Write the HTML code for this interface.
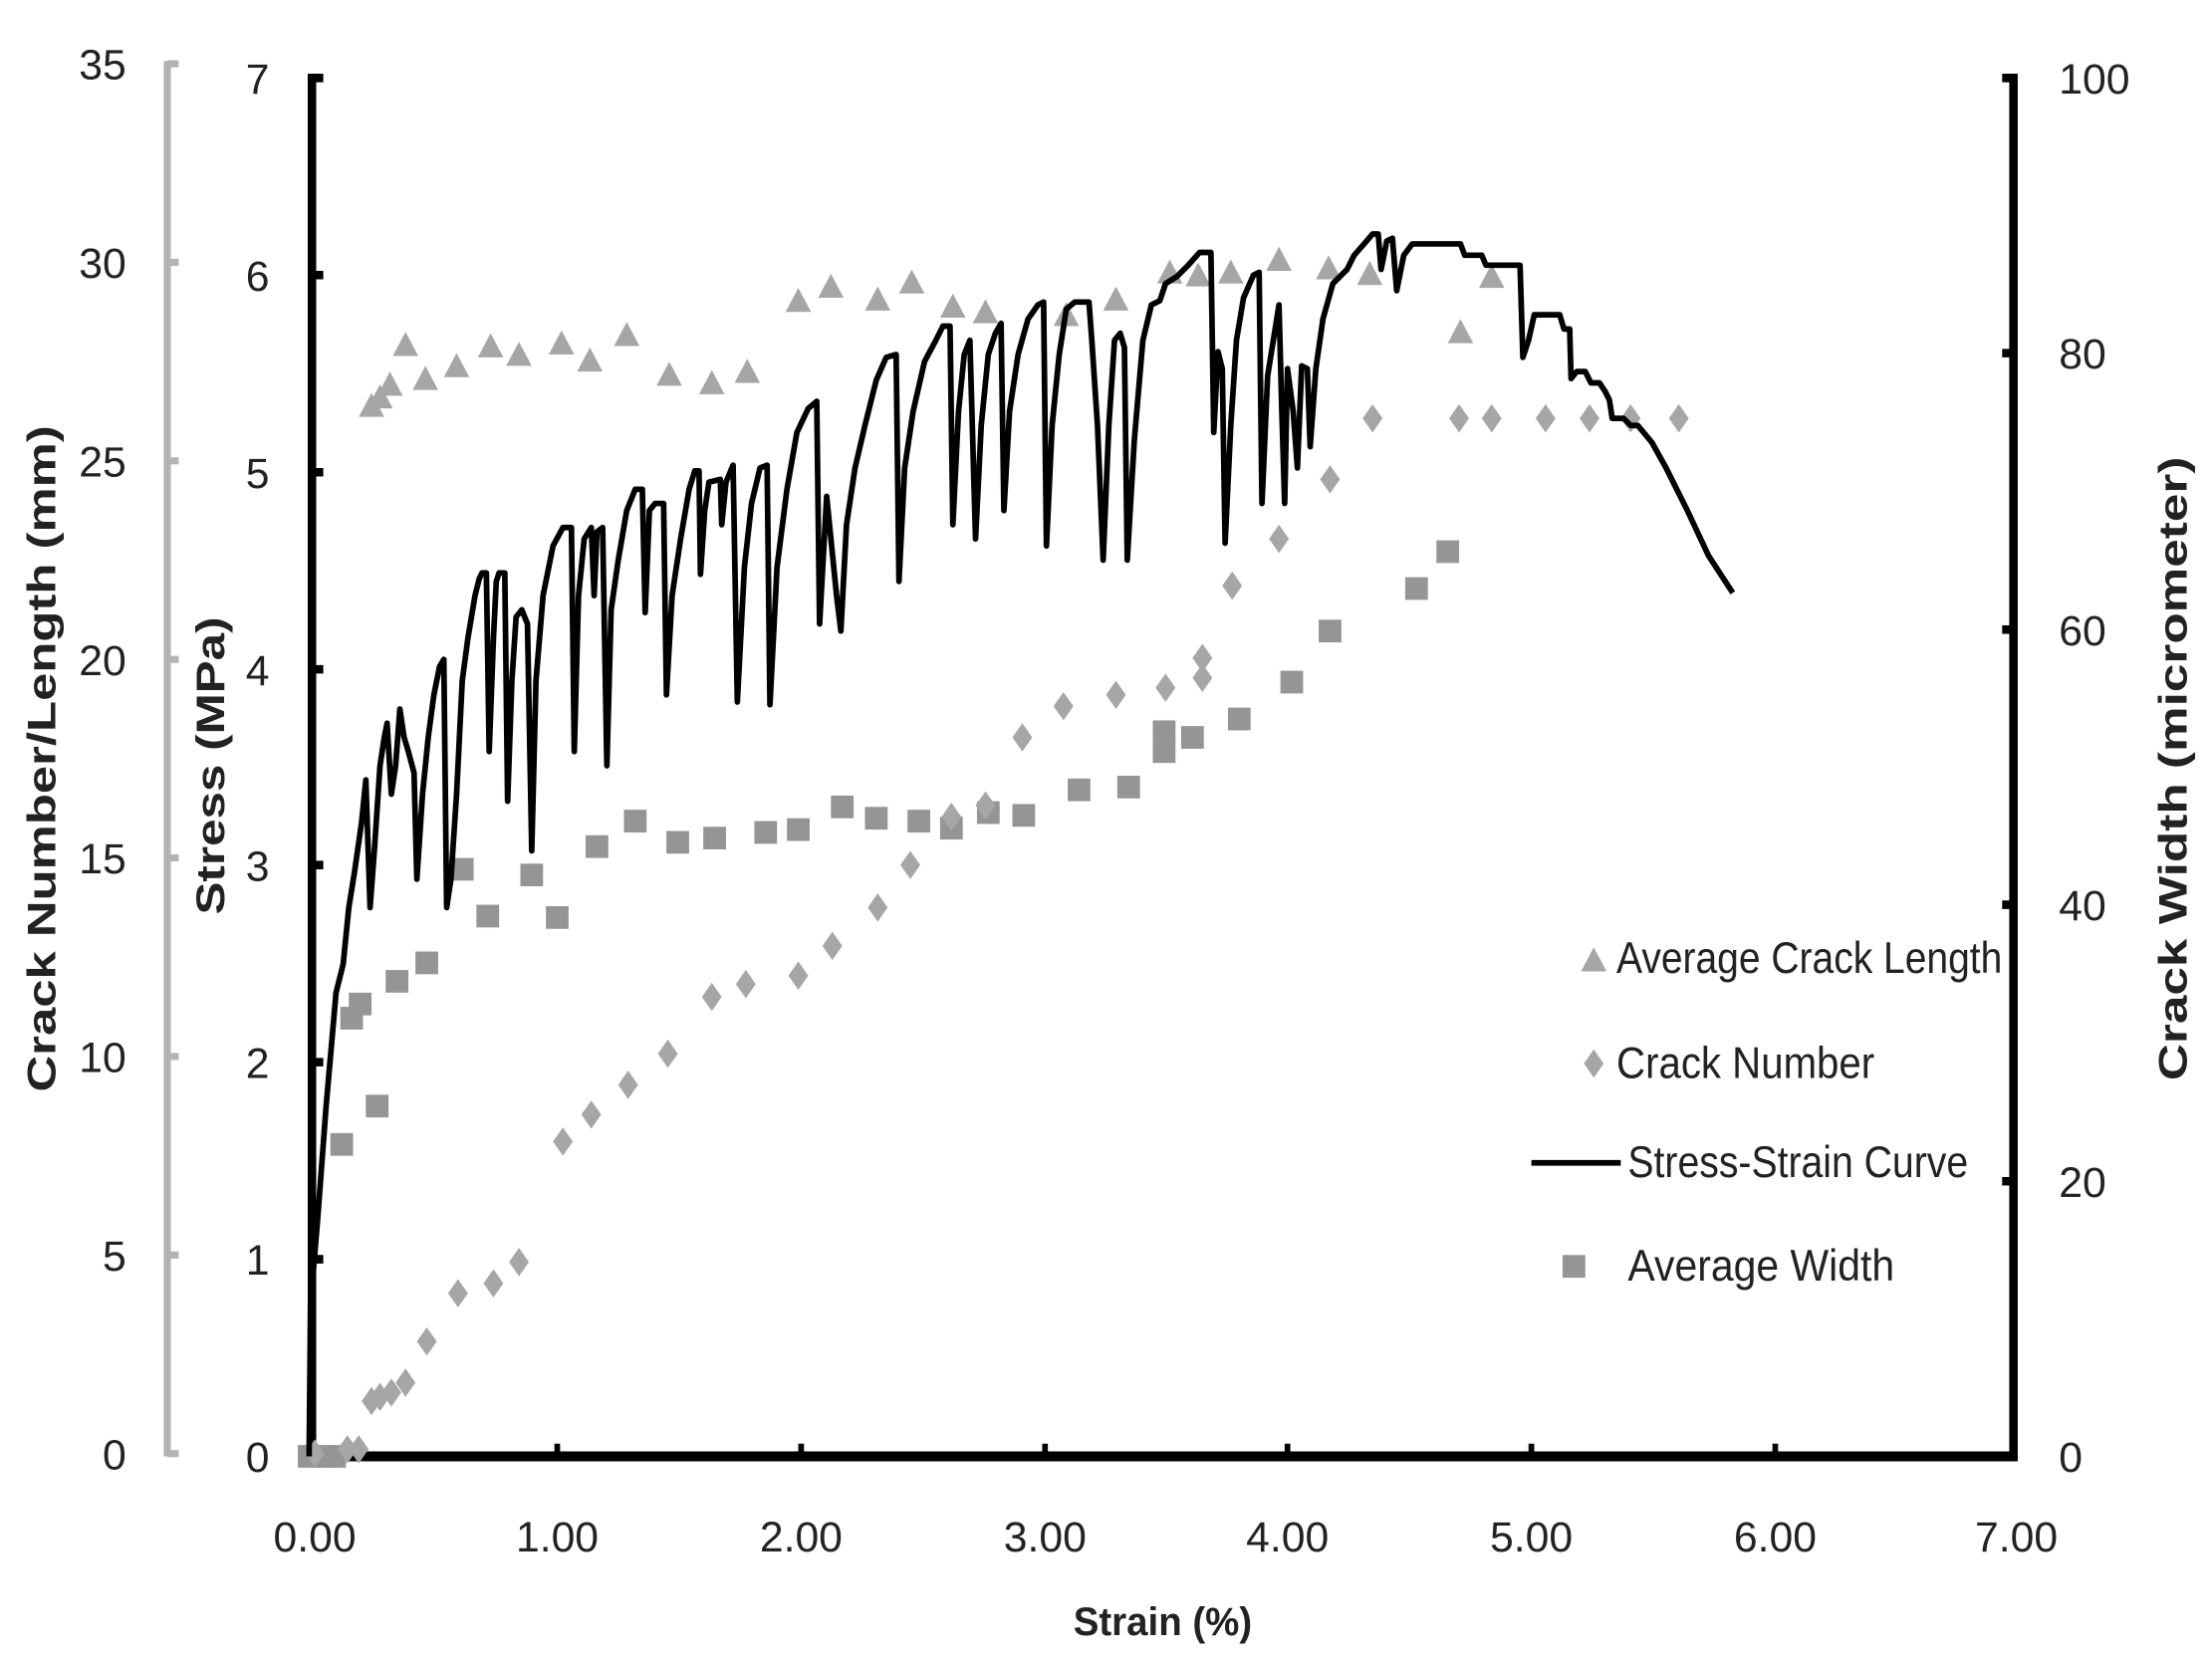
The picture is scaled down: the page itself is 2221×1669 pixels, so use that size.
<!DOCTYPE html>
<html><head><meta charset="utf-8"><style>
html,body{margin:0;padding:0;background:#fff;}
svg{display:block;}
text{font-family:"Liberation Sans Narrow","Liberation Sans",sans-serif;fill:#222;}
.b{font-family:"Liberation Sans","DejaVu Sans",sans-serif;font-weight:bold;}
</style></head><body>
<svg width="2221" height="1669" viewBox="0 0 1560 1172" preserveAspectRatio="none" xmlns="http://www.w3.org/2000/svg">
<defs>
<polygon id="tri" points="0,-10 9,7 -9,7" fill="#a6a6a6"/>
<polygon id="dia" points="0,-10 7,0 0,10 -7,0" fill="#a6a6a6"/>
<rect id="sq" x="-8" y="-8" width="16" height="16" fill="#959595"/>
</defs>
<g stroke="#b3b3b3" stroke-width="5" fill="none">
<line x1="118" y1="43" x2="118" y2="1027"/>
<path d="M118 45h8M118 185h8M118 325h8M118 465h8M118 605h8M118 745h8M118 885h8M118 1025h8"/>
</g>
<g font-size="30" text-anchor="end">
<text x="89" y="56">35</text><text x="89" y="196">30</text><text x="89" y="336">25</text><text x="89" y="476">20</text><text x="89" y="616">15</text><text x="89" y="756">10</text><text x="89" y="896">5</text><text x="89" y="1036">0</text>
</g>
<text class="b" font-size="28" transform="translate(39,535) rotate(-90)" x="-235" textLength="470" lengthAdjust="spacingAndGlyphs">Crack Number/Length (mm)</text>
<g stroke="#000" stroke-width="6" fill="none">
<line x1="220" y1="52" x2="220" y2="1030"/>
<path d="M220 55h8M220 194h8M220 333h8M220 472h8M220 610h8M220 749h8M220 888h8"/>
</g>
<g font-size="30" text-anchor="end">
<text x="190" y="66">7</text><text x="190" y="205">6</text><text x="190" y="344">5</text><text x="190" y="483">4</text><text x="190" y="621">3</text><text x="190" y="760">2</text><text x="190" y="899">1</text><text x="190" y="1038">0</text>
</g>
<text class="b" font-size="28" transform="translate(158,540) rotate(-90)" x="-105" textLength="210" lengthAdjust="spacingAndGlyphs">Stress (MPa)</text>
<g stroke="#000" fill="none">
<line x1="218" y1="1027" x2="1423" y2="1027" stroke-width="7"/>
<path stroke-width="4" d="M393 1027v-9M565 1027v-9M737 1027v-9M908 1027v-9M1080 1027v-9M1252 1027v-9"/>
</g>
<g font-size="30" text-anchor="middle">
<text x="222" y="1094">0.00</text><text x="393" y="1094">1.00</text><text x="565" y="1094">2.00</text><text x="737" y="1094">3.00</text><text x="908" y="1094">4.00</text><text x="1080" y="1094">5.00</text><text x="1252" y="1094">6.00</text><text x="1422" y="1094">7.00</text>
</g>
<text class="b" font-size="28" x="757" y="1153" textLength="126" lengthAdjust="spacingAndGlyphs">Strain (%)</text>
<g stroke="#000" stroke-width="6" fill="none">
<line x1="1420" y1="52" x2="1420" y2="1030"/>
<path d="M1420 55h-8M1420 249h-8M1420 444h-8M1420 638h-8M1420 833h-8"/>
</g>
<g font-size="30">
<text x="1452" y="66">100</text><text x="1452" y="260">80</text><text x="1452" y="455">60</text><text x="1452" y="649">40</text><text x="1452" y="844">20</text><text x="1452" y="1038">0</text>
</g>
<text class="b" font-size="28" transform="translate(1542,542) rotate(-90)" x="-220" textLength="440" lengthAdjust="spacingAndGlyphs">Crack Width (micrometer)</text>
<g>
<use href="#sq" x="218" y="1027"/><use href="#sq" x="228" y="1027"/><use href="#sq" x="236" y="1027"/><use href="#sq" x="241" y="807"/><use href="#sq" x="248" y="718"/><use href="#sq" x="254" y="708"/><use href="#sq" x="266" y="780"/><use href="#sq" x="280" y="692"/><use href="#sq" x="301" y="679"/><use href="#sq" x="326" y="613"/><use href="#sq" x="344" y="646"/><use href="#sq" x="375" y="617"/><use href="#sq" x="393" y="647"/><use href="#sq" x="421" y="597"/><use href="#sq" x="448" y="579"/><use href="#sq" x="478" y="594"/><use href="#sq" x="504" y="591"/><use href="#sq" x="540" y="587"/><use href="#sq" x="563" y="585"/><use href="#sq" x="594" y="569"/><use href="#sq" x="618" y="577"/><use href="#sq" x="648" y="579"/><use href="#sq" x="671" y="584"/><use href="#sq" x="697" y="573"/><use href="#sq" x="722" y="575"/><use href="#sq" x="761" y="557"/><use href="#sq" x="796" y="555"/><use href="#sq" x="821" y="516"/><use href="#sq" x="821" y="530"/><use href="#sq" x="841" y="520"/><use href="#sq" x="874" y="507"/><use href="#sq" x="911" y="481"/><use href="#sq" x="938" y="445"/><use href="#sq" x="999" y="415"/><use href="#sq" x="1021" y="389"/>
</g>
<g>
<use href="#dia" x="222" y="1025"/><use href="#dia" x="245" y="1022"/><use href="#dia" x="253" y="1022"/><use href="#dia" x="262" y="988"/><use href="#dia" x="268" y="985"/><use href="#dia" x="276" y="982"/><use href="#dia" x="286" y="975"/><use href="#dia" x="301" y="946"/><use href="#dia" x="323" y="912"/><use href="#dia" x="348" y="905"/><use href="#dia" x="366" y="890"/><use href="#dia" x="397" y="805"/><use href="#dia" x="417" y="786"/><use href="#dia" x="443" y="765"/><use href="#dia" x="471" y="743"/><use href="#dia" x="502" y="703"/><use href="#dia" x="526" y="694"/><use href="#dia" x="563" y="688"/><use href="#dia" x="587" y="667"/><use href="#dia" x="619" y="640"/><use href="#dia" x="642" y="610"/><use href="#dia" x="671" y="576"/><use href="#dia" x="695" y="568"/><use href="#dia" x="721" y="520"/><use href="#dia" x="750" y="498"/><use href="#dia" x="787" y="490"/><use href="#dia" x="822" y="485"/><use href="#dia" x="848" y="464"/><use href="#dia" x="848" y="478"/><use href="#dia" x="869" y="413"/><use href="#dia" x="902" y="380"/><use href="#dia" x="938" y="338"/><use href="#dia" x="968" y="295"/><use href="#dia" x="1029" y="295"/><use href="#dia" x="1052" y="295"/><use href="#dia" x="1090" y="295"/><use href="#dia" x="1121" y="295"/><use href="#dia" x="1150" y="295"/><use href="#dia" x="1184" y="295"/>
</g>
<g>
<use href="#tri" x="262" y="287"/><use href="#tri" x="268" y="281"/><use href="#tri" x="275" y="272"/><use href="#tri" x="286" y="244"/><use href="#tri" x="300" y="268"/><use href="#tri" x="322" y="259"/><use href="#tri" x="346" y="245"/><use href="#tri" x="366" y="251"/><use href="#tri" x="396" y="243"/><use href="#tri" x="416" y="255"/><use href="#tri" x="442" y="237"/><use href="#tri" x="472" y="265"/><use href="#tri" x="502" y="271"/><use href="#tri" x="527" y="263"/><use href="#tri" x="563" y="213"/><use href="#tri" x="586" y="203"/><use href="#tri" x="619" y="212"/><use href="#tri" x="643" y="200"/><use href="#tri" x="672" y="217"/><use href="#tri" x="695" y="221"/><use href="#tri" x="752" y="223"/><use href="#tri" x="787" y="212"/><use href="#tri" x="825" y="193"/><use href="#tri" x="845" y="195"/><use href="#tri" x="868" y="193"/><use href="#tri" x="902" y="184"/><use href="#tri" x="937" y="190"/><use href="#tri" x="966" y="194"/><use href="#tri" x="1030" y="235"/><use href="#tri" x="1052" y="196"/>
</g>
<polyline fill="none" stroke="#000" stroke-width="4" stroke-linejoin="round" points="218,1027 219,920 224,860 230,780 237,700 242,680 246,640 250,615 255,580 258,550 261,640 264,600 268,540 271,520 273,510 276,560 279,540 282,500 285,520 288,530 292,545 294,620 298,560 302,520 306,490 310,470 313,465 315,640 318,620 322,560 326,480 330,450 335,420 338,408 340,404 343,404 345,530 348,450 350,410 352,404 356,404 358,565 361,480 364,435 368,430 372,440 375,600 378,480 383,420 390,385 397,372 403,372 405,530 408,420 412,380 417,372 419,420 421,375 425,372 428,540 431,430 436,395 442,360 448,345 453,345 455,432 458,360 462,355 468,355 470,490 474,420 480,380 486,345 490,332 493,332 494,405 497,360 500,340 508,338 509,370 512,340 517,328 520,495 525,400 530,355 536,330 541,328 543,497 548,400 555,345 562,305 570,288 576,283 578,440 583,350 590,420 593,445 597,370 603,330 610,300 618,268 625,252 632,250 634,410 638,330 644,290 652,255 660,240 665,230 670,230 672,370 676,290 680,250 684,240 686,310 688,380 692,300 697,250 702,235 706,228 708,360 712,290 718,250 725,225 732,215 736,213 738,385 742,300 747,250 752,218 758,213 768,213 770,240 774,300 778,395 782,300 786,240 790,235 793,245 795,395 800,310 806,240 812,215 818,212 822,200 830,195 838,187 846,178 854,178 856,305 859,248 862,260 864,383 868,300 872,240 877,210 884,194 888,192 890,355 894,265 898,240 902,215 904,290 906,355 908,260 912,290 915,330 918,258 922,260 924,315 928,260 933,225 940,200 945,195 950,190 955,180 962,172 968,165 972,165 974,190 978,170 982,168 985,205 990,180 996,172 1002,172 1030,172 1033,180 1045,180 1048,187 1060,187 1072,187 1074,252 1078,240 1082,222 1100,222 1103,232 1107,232 1108,267 1112,262 1118,262 1122,270 1128,270 1132,276 1135,282 1137,295 1145,295 1150,300 1155,300 1165,312 1175,330 1190,360 1205,392 1222,418"/>
<use href="#tri" x="1124" y="678"/>
<text x="1140" y="686" font-size="31" textLength="272" lengthAdjust="spacingAndGlyphs">Average Crack Length</text>
<use href="#dia" x="1124" y="750"/>
<text x="1140" y="760" font-size="31" textLength="182" lengthAdjust="spacingAndGlyphs">Crack Number</text>
<line x1="1080" y1="820" x2="1143" y2="820" stroke="#000" stroke-width="4"/>
<text x="1148" y="830" font-size="31" textLength="240" lengthAdjust="spacingAndGlyphs">Stress-Strain Curve</text>
<use href="#sq" x="1110" y="893"/>
<text x="1148" y="903" font-size="31" textLength="188" lengthAdjust="spacingAndGlyphs">Average Width</text>
</svg>
</body></html>
